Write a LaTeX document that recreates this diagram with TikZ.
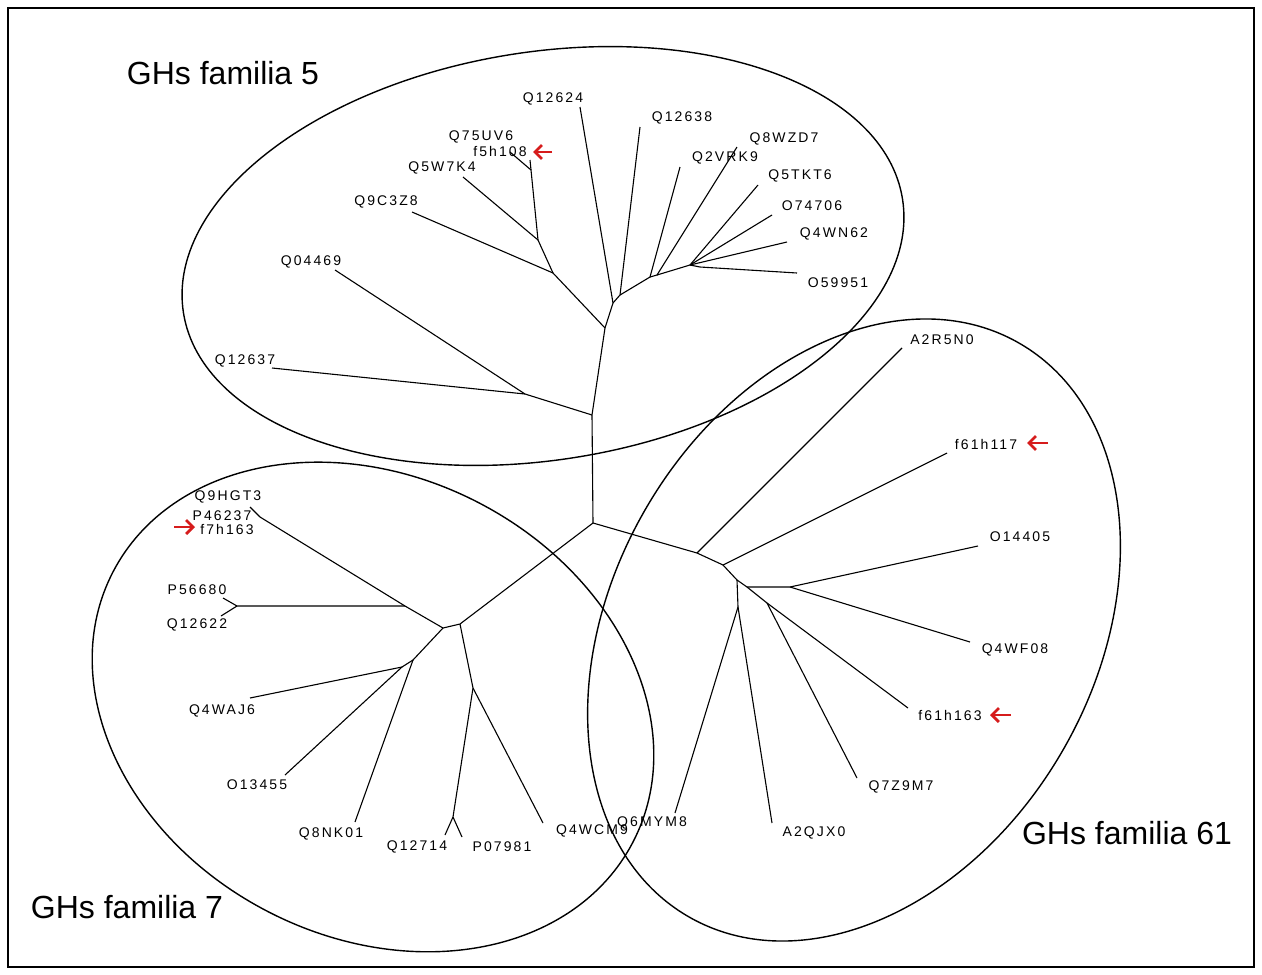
\documentclass[tikz,border=0pt]{standalone}
\usepackage{fontspec}
\setmainfont{Liberation Sans}
\newfontfamily\labfont[LetterSpace=15]{Liberation Sans}
\usetikzlibrary{arrows.meta}
\definecolor{mkred}{RGB}{214,28,28}
\begin{document}
\begin{tikzpicture}[x=1pt,y=-1pt,
  lab/.style={font=\labfont\fontsize{14}{14}\selectfont, inner sep=0pt},
  grptitle/.style={font=\fontsize{32}{32}\selectfont, inner sep=0pt},
  br/.style={line width=1.1pt, black},
  grp/.style={line width=1.4pt, black},
  mk/.style={mkred, line width=2.8pt, -{Straight Barb[length=7pt,width=14pt]}}]
\useasboundingbox (0,0) rectangle (1262,975);
\draw[line width=1.5pt] (8,8) rectangle (1254,967);

% group outlines
\coordinate (c5) at (543,256);
\coordinate (c7) at (373,707);
\coordinate (c61) at (854,630);
\draw[grp, rotate around={9:(c5)}] (c5) ellipse [x radius=364pt, y radius=204pt];
\draw[grp, rotate around={-27.5:(c7)}] (c7) ellipse [x radius=293pt, y radius=230pt];
\draw[grp, rotate around={60:(c61)}] (c61) ellipse [x radius=331pt, y radius=241pt];

% group titles
\node[grptitle] (t5) at (223,73) {GHs familia 5};
\node[grptitle] (t61) at (1127,833) {GHs familia 61};
\node[grptitle] (t7) at (127,907) {GHs familia 7};

% internal nodes
\coordinate (M) at (593,523);
\coordinate (L) at (592,415);
\coordinate (K) at (525,394);
\coordinate (D) at (605,328);
\coordinate (C) at (553,273);
\coordinate (B) at (538,240);
\coordinate (A) at (531,170);
\coordinate (E) at (613,303);
\coordinate (F) at (620,295);
\coordinate (G) at (650,277);
\coordinate (H) at (657,275);
\coordinate (I) at (690,265);
\coordinate (J) at (700,267);
\coordinate (N4) at (460,624);
\coordinate (N2) at (443,628);
\coordinate (N3) at (405,606);
\coordinate (N1) at (260,517);
\coordinate (N9) at (237,606);
\coordinate (N5) at (413,660);
\coordinate (N6) at (402,667);
\coordinate (N7) at (473,688);
\coordinate (N8) at (453,817);
\coordinate (R0) at (697,553);
\coordinate (R1) at (723,565);
\coordinate (R2) at (737,580);
\coordinate (R6) at (747,587);
\coordinate (R3) at (790,587);
\coordinate (R4) at (767,603);
\coordinate (R5) at (738,607);

% leaf ends
\coordinate (lQ12637) at (272,368);
\coordinate (lQ04469) at (335,270);
\coordinate (lQ9C3Z8) at (412,212);
\coordinate (lQ5W7K4) at (463,177);
\coordinate (lQ75UV6) at (510,152);
\coordinate (lf5h108) at (530,160);
\coordinate (lQ12624) at (580,107);
\coordinate (lQ12638) at (640,127);
\coordinate (lQ2VRK9) at (680,167);
\coordinate (lQ8WZD7) at (737,147);
\coordinate (lQ5TKT6) at (758,185);
\coordinate (lO74706) at (772,215);
\coordinate (lQ4WN62) at (787,242);
\coordinate (lO59951) at (797,273);
\coordinate (lQ9HGT3) at (250,507);
\coordinate (lP56680) at (223,598);
\coordinate (lQ12622) at (221,616);
\coordinate (lQ4WAJ6) at (250,698);
\coordinate (lO13455) at (285,775);
\coordinate (lQ8NK01) at (355,822);
\coordinate (lQ12714) at (445,835);
\coordinate (lP07981) at (462,837);
\coordinate (lQ4WCM9) at (543,823);
\coordinate (lA2R5N0) at (902,348);
\coordinate (lf61h117) at (947,453);
\coordinate (lO14405) at (978,546);
\coordinate (lQ4WF08) at (970,642);
\coordinate (lf61h163) at (908,708);
\coordinate (lQ7Z9M7) at (857,778);
\coordinate (lA2QJX0) at (772,823);
\coordinate (lQ6MYM8) at (675,813);

% branches: family 5
\draw[br] (M) -- (L) -- (D);
\draw[br] (L) -- (K) -- (lQ12637);
\draw[br] (K) -- (lQ04469);
\draw[br] (D) -- (C) -- (lQ9C3Z8);
\draw[br] (C) -- (B) -- (lQ5W7K4);
\draw[br] (B) -- (A) -- (lQ75UV6);
\draw[br] (A) -- (lf5h108);
\draw[br] (D) -- (E) -- (lQ12624);
\draw[br] (E) -- (F) -- (lQ12638);
\draw[br] (F) -- (G) -- (lQ2VRK9);
\draw[br] (G) -- (H) -- (lQ8WZD7);
\draw[br] (H) -- (I) -- (lQ5TKT6);
\draw[br] (I) -- (lO74706);
\draw[br] (I) -- (lQ4WN62);
\draw[br] (I) -- (J) -- (lO59951);
% branches: family 7
\draw[br] (M) -- (N4) -- (N2) -- (N3) -- (N1) -- (lQ9HGT3);
\draw[br] (N3) -- (N9) -- (lP56680);
\draw[br] (N9) -- (lQ12622);
\draw[br] (N2) -- (N5) -- (N6) -- (lQ4WAJ6);
\draw[br] (N6) -- (lO13455);
\draw[br] (N5) -- (lQ8NK01);
\draw[br] (N4) -- (N7) -- (N8) -- (lQ12714);
\draw[br] (N8) -- (lP07981);
\draw[br] (N7) -- (lQ4WCM9);
% branches: family 61
\draw[br] (M) -- (R0) -- (R1) -- (R2) -- (R6) -- (R3) -- (lO14405);
\draw[br] (R0) -- (lA2R5N0);
\draw[br] (R1) -- (lf61h117);
\draw[br] (R3) -- (lQ4WF08);
\draw[br] (R6) -- (R4) -- (lf61h163);
\draw[br] (R4) -- (lQ7Z9M7);
\draw[br] (R2) -- (R5) -- (lQ6MYM8);
\draw[br] (R5) -- (lA2QJX0);

% labels
\node[lab] (Q75UV6) at (481,137) {Q75UV6};
\node[lab] (f5h108) at (500,151) {f5h108};
\node[lab] (Q5W7K4) at (442,168) {Q5W7K4};
\node[lab] (Q9C3Z8) at (386,202) {Q9C3Z8};
\node[lab] (Q04469) at (311,262) {Q04469};
\node[lab] (Q12637) at (245,361) {Q12637};
\node[lab] (Q12624) at (553,99) {Q12624};
\node[lab] (Q12638) at (682,118) {Q12638};
\node[lab] (Q8WZD7) at (784,139) {Q8WZD7};
\node[lab] (Q2VRK9) at (725,158) {Q2VRK9};
\node[lab] (Q5TKT6) at (800,176) {Q5TKT6};
\node[lab] (O74706) at (812,206) {O74706};
\node[lab] (Q4WN62) at (834,234) {Q4WN62};
\node[lab] (O59951) at (838,283) {O59951};
\node[lab] (Q9HGT3) at (228,497) {Q9HGT3};
\node[lab] (P46237) at (222,516) {P46237};
\node[lab] (f7h163) at (227,529) {f7h163};
\node[lab] (P56680) at (197,590) {P56680};
\node[lab] (Q12622) at (197,625) {Q12622};
\node[lab] (Q4WAJ6) at (222,711) {Q4WAJ6};
\node[lab] (O13455) at (257,785) {O13455};
\node[lab] (Q8NK01) at (331,834) {Q8NK01};
\node[lab] (Q12714) at (417,847) {Q12714};
\node[lab] (P07981) at (502,847) {P07981};
\node[lab] (Q4WCM9) at (592,831) {Q4WCM9};
\node[lab] (Q6MYM8) at (652,823) {Q6MYM8};
\node[lab] (A2R5N0) at (942,340) {A2R5N0};
\node[lab] (f61h117) at (986,444) {f61h117};
\node[lab] (O14405) at (1020,537) {O14405};
\node[lab] (Q4WF08) at (1015,650) {Q4WF08};
\node[lab] (f61h163) at (950,715) {f61h163};
\node[lab] (Q7Z9M7) at (901,787) {Q7Z9M7};
\node[lab] (A2QJX0) at (814,833) {A2QJX0};

% red markers
\coordinate (m1s) at (552,152); \coordinate (m1e) at (533,152);
\coordinate (m2s) at (1048,443); \coordinate (m2e) at (1027,443);
\coordinate (m3s) at (1011,715); \coordinate (m3e) at (990,715);
\coordinate (m4s) at (174,527); \coordinate (m4e) at (195,527);
\draw[mk] (m1s) -- (m1e);
\draw[mk] (m2s) -- (m2e);
\draw[mk] (m3s) -- (m3e);
\draw[mk] (m4s) -- (m4e);
\end{tikzpicture}
\end{document}
